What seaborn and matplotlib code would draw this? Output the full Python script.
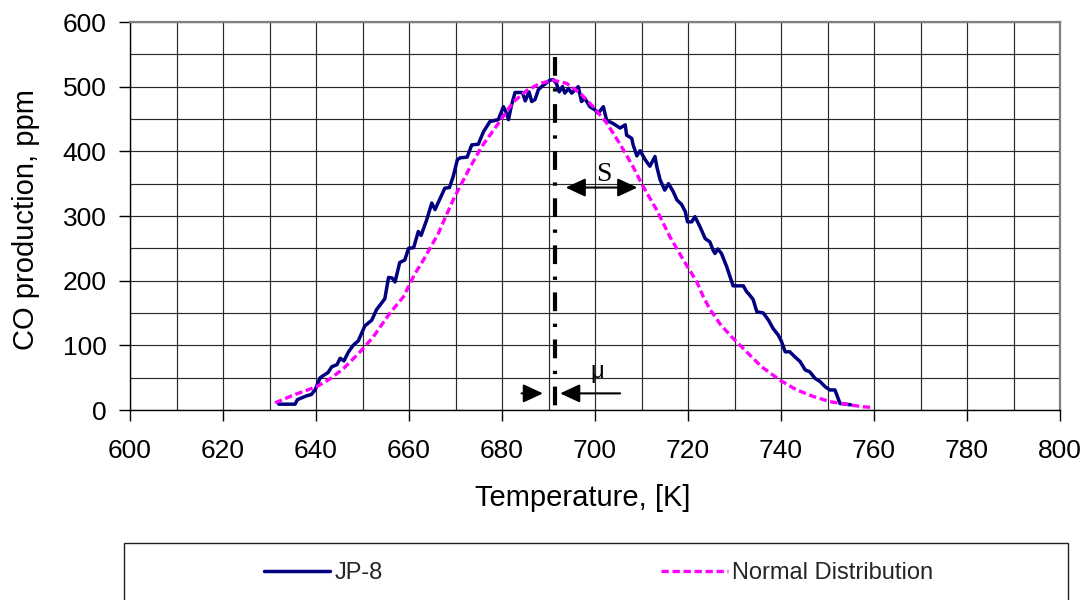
import matplotlib
matplotlib.use("Agg")
import matplotlib.pyplot as plt
import seaborn as sns
import pandas as pd
from matplotlib.ticker import MultipleLocator
from matplotlib.patches import Rectangle

# ---------------- data ----------------
jp8_T = [632.0, 635.5, 636.0, 638.0, 639.0, 639.8, 640.9, 642.6, 643.4, 644.5,
         645.2, 646.0, 647.0, 648.0, 649.1, 650.5, 652.0, 653.0, 654.8, 655.6,
         656.4, 657.0, 658.0, 659.1, 659.9, 661.0, 662.0, 662.6, 663.8, 664.9,
         665.6, 667.7, 668.7, 669.5, 670.4, 671.0, 672.5, 673.5, 674.9, 676.0,
         677.4, 679.2, 680.3, 680.8, 681.4, 682.0, 682.8, 684.4, 685.0, 685.8,
         686.4, 687.1, 687.8, 688.5, 689.4, 690.3, 691.0, 691.7, 692.3, 693.0,
         693.5, 694.3, 695.0, 695.7, 696.4, 697.1, 697.8, 698.9, 700.0, 700.7,
         701.8, 702.5, 703.9, 705.4, 706.5, 706.8, 707.9, 708.2, 709.0, 709.7,
         710.8, 711.8, 712.9, 713.3, 714.0, 715.0, 715.8, 716.8, 717.6, 718.6,
         719.4, 719.9, 720.8, 721.5, 722.6, 723.7, 724.7, 725.4, 725.8, 726.4,
         727.2, 728.3, 729.7, 731.9, 732.6, 733.0, 734.0, 734.8, 736.2, 737.3,
         738.3, 739.4, 740.1, 740.9, 741.9, 743.0, 744.1, 745.2, 746.2, 747.3,
         748.4, 749.5, 750.5, 751.6, 752.7, 754.0, 755.0]
jp8_ppm = [9, 9, 16, 22, 24, 31, 50, 58, 67, 70,
           80, 76, 90, 100, 107, 130, 139, 155, 172, 205,
           204, 198, 228, 232, 250, 251, 276, 270, 294, 320,
           310, 343, 344, 361, 387, 390, 391, 410, 411, 430,
           446, 449, 469, 462, 449, 470, 491, 491, 478, 492,
           477, 480, 495, 500, 505, 510, 511, 505, 492, 500,
           490, 497, 490, 495, 500, 477, 482, 469, 464, 459,
           469, 448, 443, 436, 441, 425, 420, 410, 393, 401,
           387, 377, 392, 376, 356, 340, 350, 338, 325, 318,
           307, 291, 291, 299, 283, 265, 260, 247, 242, 249,
           242, 222, 192, 192, 183, 180, 171, 152, 150, 139,
           126, 116, 106, 90, 90, 82, 75, 62, 59, 49,
           44, 36, 31, 31, 10, 9, 8]

norm_T = [631.2, 635.1, 640.1, 643.0, 645.9, 649.5, 652.3, 655.9, 658.8, 661.3,
          663.1, 666.3, 669.5, 672.8, 675.6, 678.9, 682.4, 685.3, 688.2, 691.0,
          693.9, 696.8, 699.6, 702.5, 705.4, 708.2, 710.4, 713.3, 716.1, 719.0,
          720.8, 721.9, 723.3, 724.7, 727.0, 729.4, 731.9, 735.8, 739.8, 743.4,
          746.9, 750.5, 754.8, 757.5, 759.8]
norm_ppm = [11, 23, 36, 48, 64, 90, 113, 150, 175, 211,
            232, 273, 325, 371, 407, 440, 476, 494, 505, 510,
            505, 490, 469, 444, 411, 376, 345, 309, 268, 232,
            211, 198, 175, 156, 132, 113, 95, 67, 46, 31,
            21, 13, 8, 5, 4]

series_labels = ["JP-8", "Normal Distribution"]
mu_T = 691.5            # dash-dot line position
mu_line_top = 546
s_arrow_T = [693.7, 709.1]
s_arrow_ppm = 344
mu_arrow_ppm = 25.7

x_label = "Temperature, [K]"
y_label = "CO production, ppm"

# ---------------- figure ----------------
sns.set_theme(style="ticks")
plt.rcParams["font.family"] = ["Liberation Sans", "DejaVu Sans"]

W, H = 1089, 600
fig = plt.figure(figsize=(W / 100, H / 100), dpi=100)
ax = fig.add_axes([130 / W, 1 - 410 / H, 930 / W, 388 / H])

df_jp8 = pd.DataFrame({"T": jp8_T, "ppm": jp8_ppm})
df_norm = pd.DataFrame({"T": norm_T, "ppm": norm_ppm})

sns.lineplot(data=df_jp8, x="T", y="ppm", ax=ax, color="#000080", lw=2.5,
             sort=False, estimator=None, label=series_labels[0], zorder=4)
sns.lineplot(data=df_norm, x="T", y="ppm", ax=ax, color="#FF00FF", lw=2.4,
             linestyle=(0, (2.2, 1.1)), sort=False, estimator=None,
             label=series_labels[1], zorder=5)

ax.set_xlim(600, 800)
ax.set_ylim(0, 600)
ax.xaxis.set_major_locator(MultipleLocator(20))
ax.xaxis.set_minor_locator(MultipleLocator(10))
ax.yaxis.set_major_locator(MultipleLocator(100))
ax.yaxis.set_minor_locator(MultipleLocator(50))
ax.grid(True, which="both", color="#2a2a2a", lw=0.85)
ax.set_axisbelow(True)

ax.tick_params(axis="both", which="major", direction="out", length=8,
               width=1, color="black", labelsize=19, labelcolor="black")
ax.tick_params(axis="x", which="major", pad=13)
ax.tick_params(axis="y", which="major", pad=9)
ax.tick_params(axis="both", which="minor", length=0)

for side in ["top", "right"]:
    ax.spines[side].set_color("#808080")
    ax.spines[side].set_linewidth(1.6)
for side in ["left", "bottom"]:
    ax.spines[side].set_color("black")
    ax.spines[side].set_linewidth(1.0)

ax.set_xlabel(x_label, fontsize=21, color="black")
ax.set_ylabel(y_label, fontsize=21, color="black")
ax.xaxis.set_label_coords((583 - 130) / 930, (410 - 498) / 388)
ax.xaxis.label.set_va("center")
ax.yaxis.set_label_coords((26 - 130) / 930, (410 - 220) / 388)
ax.yaxis.label.set_va("center")

# dash-dot mean line
ax.plot([mu_T, mu_T], [mu_line_top, 0], color="black", lw=3.0,
        linestyle=(0, (4.5, 3.0, 0.8, 3.0)), zorder=6)

arrow_style_kw = dict(color="black", lw=1.5, mutation_scale=20,
                      shrinkA=0, shrinkB=0)
# S double arrow
ax.annotate("", xy=(s_arrow_T[1], s_arrow_ppm), xytext=(s_arrow_T[0], s_arrow_ppm),
            arrowprops=dict(arrowstyle="<|-|>,head_length=0.6,head_width=0.28",
                            **arrow_style_kw), zorder=7)
ax.text(701.9, 364, "S", fontsize=20, family=["Liberation Serif", "DejaVu Serif"],
        ha="center", va="center", color="black", zorder=7)

# mu arrows
ax.annotate("", xy=(688.8, mu_arrow_ppm), xytext=(684.2, mu_arrow_ppm),
            arrowprops=dict(arrowstyle="-|>,head_length=0.6,head_width=0.28",
                            **arrow_style_kw), zorder=7)
ax.annotate("", xy=(692.5, mu_arrow_ppm), xytext=(705.4, mu_arrow_ppm),
            arrowprops=dict(arrowstyle="-|>,head_length=0.6,head_width=0.28",
                            **arrow_style_kw), zorder=7)
ax.text(700.4, 59, "μ", fontsize=17, ha="center", va="center", color="black", zorder=7)

# legend
handles, labels = ax.get_legend_handles_labels()
if ax.get_legend() is not None:
    ax.get_legend().remove()
fig.legend(handles, labels, loc="center", bbox_to_anchor=(598.5 / W, 1 - 573 / H),
           ncol=2, frameon=False, fontsize=17, handlelength=2.83,
           handletextpad=0.17, columnspacing=11.8)
fig.add_artist(Rectangle((124 / W, -0.05), (1068 - 124) / W, (1 - 543 / H) + 0.05,
                         transform=fig.transFigure, fill=False,
                         edgecolor="#202020", lw=1.0))

fig.savefig("out.png", dpi=100)
